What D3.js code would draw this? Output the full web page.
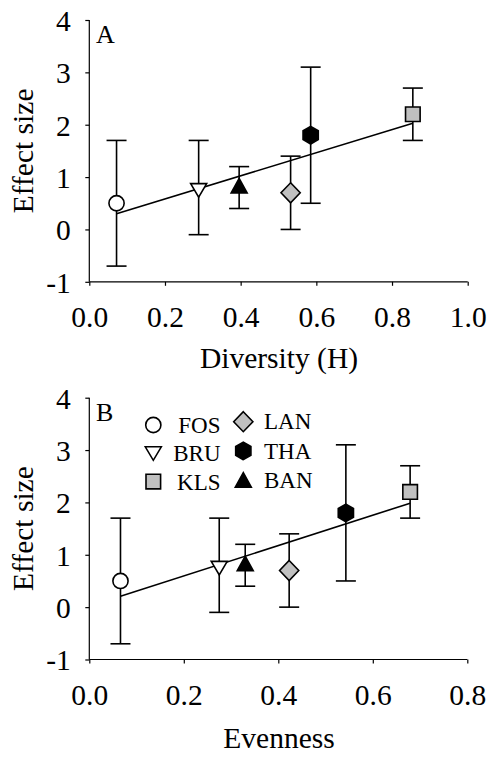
<!DOCTYPE html>
<html>
<head>
<meta charset="utf-8">
<script src="https://cdn.jsdelivr.net/npm/d3@7"></script>
<style>
  body { margin: 0; background: #fff; }
  svg { display: block; }
  svg text { font-family: "Liberation Serif", "Times New Roman", serif; fill: #000; }
</style>
</head>
<body>
<svg id="chart" width="492" height="758"></svg>
<script>
// data
const sites = ["FOS", "BRU", "BAN", "LAN", "THA", "KLS"];
const markers = ["circle", "triangleDown", "triangleUp", "diamond", "hexagon", "square"];
const fills = ["#fff", "#fff", "#000", "#c0c0c0", "#000", "#c0c0c0"];
const diversity = [0.072, 0.289, 0.396, 0.532, 0.585, 0.855];
const evenness = [0.066, 0.275, 0.330, 0.423, 0.543, 0.679];
const effect = [0.5, 0.75, 0.83, 0.7, 1.8, 2.2];
const errLow = [-0.7, -0.1, 0.4, 0.0, 0.5, 1.7];
const errHigh = [1.7, 1.7, 1.2, 1.4, 3.1, 2.7];
const yTicks = [-1, 0, 1, 2, 3, 4];
const xTicksA = [0, 0.2, 0.4, 0.6, 0.8, 1.0];
const xTicksB = [0, 0.2, 0.4, 0.6, 0.8];
// regression lines (intercept, slope)
const fitA = [0.14, 2.21];
const fitB = [0.016, 2.90];
const legendLeft = ["FOS", "BRU", "KLS"];
const legendRight = ["LAN", "THA", "BAN"];

const svg = d3.select("#chart");

// marker shapes, centred on 0,0
function shape(type) {
  const p = d3.path();
  if (type === "circle") {
    p.arc(0, 0, 7.6, 0, 2 * Math.PI);
  } else if (type === "square") {
    p.rect(-7.3, -7.3, 14.6, 14.6);
  } else if (type === "diamond") {
    p.moveTo(0, -10); p.lineTo(9.6, 0); p.lineTo(0, 10); p.lineTo(-9.6, 0); p.closePath();
  } else if (type === "triangleUp") {
    p.moveTo(0, -7.5); p.lineTo(8, 7); p.lineTo(-8, 7); p.closePath();
  } else if (type === "triangleDown") {
    p.moveTo(-8, -6.5); p.lineTo(8, -6.5); p.lineTo(0, 7); p.closePath();
  } else if (type === "hexagon") {
    for (let i = 0; i < 6; i++) {
      const a = Math.PI / 2 + i * Math.PI / 3;
      const px = 8.8 * Math.cos(a), py = 8.8 * Math.sin(a);
      if (i === 0) p.moveTo(px, py); else p.lineTo(px, py);
    }
    p.closePath();
  }
  return p.toString();
}

function panel(cfg) {
  const x = d3.scaleLinear().domain(cfg.xDomain).range([89.3, cfg.xEnd]);
  const y = d3.scaleLinear().domain([-1, 4]).range([cfg.y0 + 261.8, cfg.y0]);
  const g = svg.append("g");

  // axes
  const yAxis = g.append("g").attr("transform", "translate(89.3,0)")
    .call(d3.axisLeft(y).tickValues(yTicks).tickSize(4).tickFormat(d => String(d)));
  const xAxis = g.append("g").attr("transform", `translate(0,${y(-1)})`)
    .call(d3.axisBottom(x).tickValues(cfg.xTicks).tickSize(4).tickFormat(d3.format(".1f")));
  [yAxis, xAxis].forEach(a => {
    a.attr("font-family", null).attr("font-size", null);
    a.select(".domain").attr("stroke", "#000").attr("stroke-width", 1.2);
    a.selectAll(".tick line").attr("stroke", "#000").attr("stroke-width", 1.2);
    a.selectAll("text").attr("font-size", 29.5).attr("fill", "#000");
  });
  yAxis.select(".domain").attr("d", `M0,${y(-1)}V${y(4)}`);
  xAxis.select(".domain").attr("d", `M${x(cfg.xDomain[0])},0H${x(cfg.xDomain[1])}`);
  yAxis.selectAll("text").attr("x", -18.5).attr("dy", "0.35em");
  xAxis.selectAll("text").attr("y", 45).attr("dy", null);

  // axis titles
  g.append("text")
    .attr("x", 279).attr("y", cfg.y0 + cfg.titleDy)
    .attr("text-anchor", "middle").attr("font-size", 29.5)
    .text(cfg.xTitle);
  g.append("text")
    .attr("transform", `translate(33,${y(1.5)}) rotate(-90)`)
    .attr("text-anchor", "middle").attr("font-size", 29.5)
    .text("Effect size");
  g.append("text")
    .attr("x", 96).attr("y", y(3.56))
    .attr("font-size", 26)
    .text(cfg.label);

  // regression line
  const xs = d3.extent(cfg.xs);
  g.append("line")
    .attr("x1", x(xs[0])).attr("y1", y(cfg.fit[0] + cfg.fit[1] * xs[0]))
    .attr("x2", x(xs[1])).attr("y2", y(cfg.fit[0] + cfg.fit[1] * xs[1]))
    .attr("stroke", "#000").attr("stroke-width", 1.6);

  // error bars
  const eb = g.selectAll(".err").data(sites).enter().append("g");
  eb.append("line")
    .attr("x1", (d, i) => x(cfg.xs[i])).attr("x2", (d, i) => x(cfg.xs[i]))
    .attr("y1", (d, i) => y(errLow[i])).attr("y2", (d, i) => y(errHigh[i]));
  eb.append("line")
    .attr("x1", (d, i) => x(cfg.xs[i]) - 10).attr("x2", (d, i) => x(cfg.xs[i]) + 10)
    .attr("y1", (d, i) => y(errLow[i])).attr("y2", (d, i) => y(errLow[i]));
  eb.append("line")
    .attr("x1", (d, i) => x(cfg.xs[i]) - 10).attr("x2", (d, i) => x(cfg.xs[i]) + 10)
    .attr("y1", (d, i) => y(errHigh[i])).attr("y2", (d, i) => y(errHigh[i]));
  eb.selectAll("line").attr("stroke", "#000").attr("stroke-width", 1.6);

  // markers
  g.selectAll(".pt").data(sites).enter().append("path")
    .attr("transform", (d, i) => `translate(${x(cfg.xs[i])},${y(effect[i])})`)
    .attr("d", (d, i) => shape(markers[i]))
    .attr("fill", (d, i) => fills[i])
    .attr("stroke", "#000").attr("stroke-width", 1.6);

  return g;
}

panel({ y0: 20, xDomain: [0, 1], xEnd: 467.7, xTicks: xTicksA, xs: diversity, fit: fitA,
        xTitle: "Diversity (H)", titleDy: 348, label: "A" });
const gB = panel({ y0: 397.7, xDomain: [0, 0.8], xEnd: 467.3, xTicks: xTicksB, xs: evenness, fit: fitB,
        xTitle: "Evenness", titleDy: 350, label: "B" });

// legend in panel B
const leg = gB.append("g");
legendLeft.forEach((s, k) => {
  const i = sites.indexOf(s);
  leg.append("path")
    .attr("transform", `translate(153.3,${425 + k * 28.3})`)
    .attr("d", shape(markers[i]))
    .attr("fill", fills[i]).attr("stroke", "#000").attr("stroke-width", 1.6);
  leg.append("text")
    .attr("x", 220.5).attr("y", 432.5 + k * 28.7)
    .attr("text-anchor", "end").attr("font-size", 23)
    .text(s);
});
legendRight.forEach((s, k) => {
  const i = sites.indexOf(s);
  leg.append("path")
    .attr("transform", `translate(243.3,${421.7 + k * 29.2})`)
    .attr("d", shape(markers[i]))
    .attr("fill", fills[i]).attr("stroke", "#000").attr("stroke-width", 1.6);
  leg.append("text")
    .attr("x", 264).attr("y", 429.3 + k * 29.5)
    .attr("font-size", 23)
    .text(s);
});
</script>
</body>
</html>
